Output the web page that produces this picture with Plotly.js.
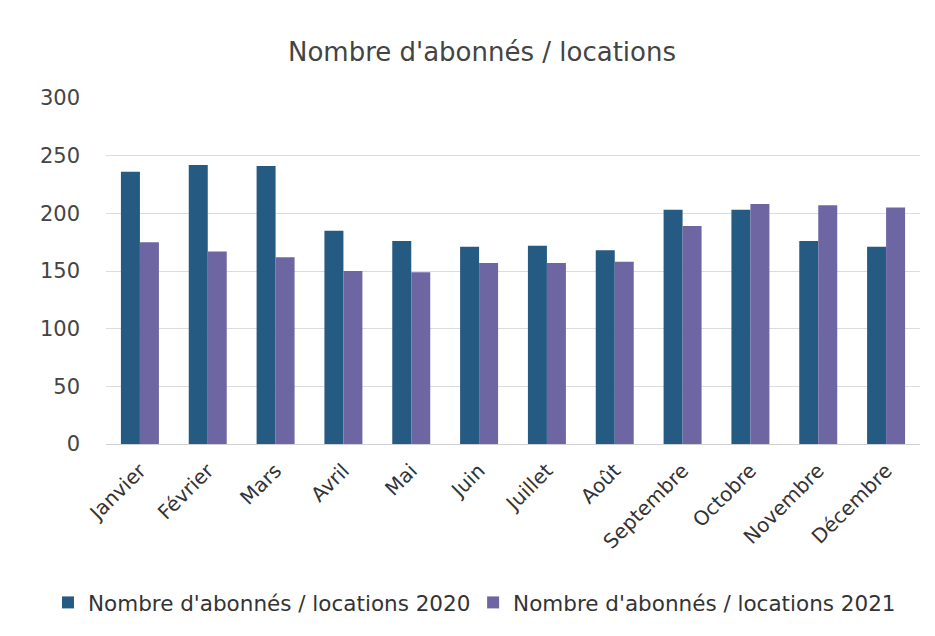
<!DOCTYPE html>
<html>
<head>
<meta charset="utf-8">
<script src="https://cdn.plot.ly/plotly-3.0.1.min.js"></script>
<style>html,body{margin:0;padding:0;background:#fff;}#chart{width:935px;height:636px;}</style>
</head>
<body>
<div id="chart"></div>
<script>
const months = ["Janvier","Février","Mars","Avril","Mai","Juin","Juillet","Août","Septembre","Octobre","Novembre","Décembre"];
const values2020 = [236, 242, 241, 185, 176, 171, 172, 168, 203, 203, 176, 171];
const values2021 = [175, 167, 162, 150, 149, 157, 157, 158, 189, 208, 207, 205];
const seriesNames = ["Nombre d'abonnés / locations 2020", "Nombre d'abonnés / locations 2021"];
const yTicks = [0, 50, 100, 150, 200, 250, 300];

const fontFam = "'DejaVu Sans', sans-serif";
const traces = [
  {type: "bar", name: seriesNames[0], x: months, y: values2020, marker: {color: "#255a82"}, legend: "legend"},
  {type: "bar", name: seriesNames[1], x: months, y: values2021, marker: {color: "#6e66a3"}, legend: "legend2"}
];
const legendFont = {family: fontFam, size: 21.5, color: "#333"};
const layout = {
  width: 935, height: 636,
  paper_bgcolor: "#fff", plot_bgcolor: "#fff",
  margin: {l: 106, r: 15, t: 98, b: 192},
  title: {text: "Nombre d'abonnés / locations", x: 0.5155, xanchor: "center", y: 0.918, yanchor: "middle",
          font: {family: fontFam, size: 26, color: "#444"}},
  barmode: "group", bargap: 0.44, bargroupgap: 0,
  xaxis: {tickangle: -45, tickfont: {family: fontFam, size: 20, color: "#333"},
          showline: false, ticks: "", showgrid: false, automargin: false, ticklabelstandoff: 10},
  yaxis: {range: [0, 300], tickvals: yTicks, tickfont: {family: fontFam, size: 21, color: "#444"},
          gridcolor: "#dcdcdc", gridwidth: 1, zeroline: true, zerolinecolor: "#d0d0d0",
          ticklabelstandoff: 25, showline: false, automargin: false},
  legend: {orientation: "h", xref: "container", yref: "container", x: 0.0513, xanchor: "left",
           y: 0.085, yanchor: "top", font: legendFont, itemwidth: 30, bgcolor: "rgba(0,0,0,0)"},
  legend2: {orientation: "h", xref: "container", yref: "container", x: 0.506, xanchor: "left",
           y: 0.085, yanchor: "top", font: legendFont, itemwidth: 30, bgcolor: "rgba(0,0,0,0)"},
  showlegend: true
};
Plotly.newPlot("chart", traces, layout, {displayModeBar: false, staticPlot: true});
</script>
</body>
</html>
